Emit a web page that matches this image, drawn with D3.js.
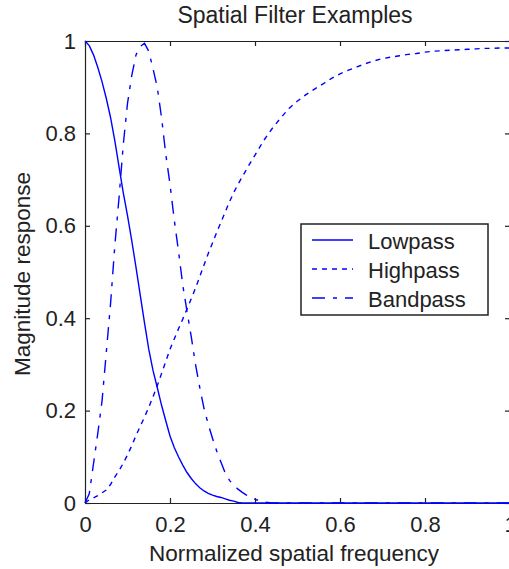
<!DOCTYPE html>
<html>
<head>
<meta charset="utf-8">
<script src="https://d3js.org/d3.v7.min.js"></script>
<style>
  body { margin: 0; background: #fff; }
  svg { display: block; font-family: "Liberation Sans", Arial, sans-serif; }
  .axis text { font-size: 22px; fill: #222; font-family: "Liberation Sans", Arial, sans-serif; }
  .axis path, .axis line { stroke: #222; stroke-width: 1.2; }
</style>
</head>
<body>
<svg width="509" height="569"></svg>
<script>
// normalized spatial frequency (shared x values)
var freq = [0, 0.01, 0.02, 0.03, 0.04, 0.05, 0.06, 0.07, 0.08, 0.09,
  0.1, 0.11, 0.12, 0.13, 0.14, 0.15, 0.16, 0.17, 0.18, 0.19,
  0.2, 0.21, 0.22, 0.23, 0.24, 0.25, 0.26, 0.27, 0.28, 0.29,
  0.3, 0.31, 0.32, 0.33, 0.34, 0.35, 0.36, 0.37, 0.38, 0.39, 0.4,
  0.42, 0.44, 0.46, 0.48, 0.5, 0.52, 0.54, 0.56, 0.58, 0.6,
  0.62, 0.64, 0.66, 0.68, 0.7, 0.72, 0.74, 0.76, 0.78, 0.8,
  0.82, 0.84, 0.86, 0.88, 0.9, 0.92, 0.94, 0.96, 0.98, 1];

var lowpass = [1, 0.99, 0.97, 0.943, 0.912, 0.876, 0.835, 0.785, 0.728, 0.672,
  0.622, 0.568, 0.51, 0.45, 0.39, 0.333, 0.287, 0.25, 0.212, 0.178,
  0.145, 0.12, 0.1, 0.082, 0.066, 0.053, 0.042, 0.033, 0.026, 0.021,
  0.017, 0.014, 0.012, 0.009, 0.006, 0.004, 0.001, 0, 0, 0, 0,
  0, 0, 0, 0, 0, 0, 0, 0, 0, 0,
  0, 0, 0, 0, 0, 0, 0, 0, 0, 0,
  0, 0, 0, 0, 0, 0, 0, 0, 0, 0];

var highpass = [0, 0.007, 0.011, 0.016, 0.022, 0.028, 0.04, 0.056, 0.07, 0.086,
  0.104, 0.124, 0.146, 0.166, 0.186, 0.207, 0.23, 0.254, 0.28, 0.306,
  0.333, 0.355, 0.377, 0.398, 0.42, 0.442, 0.465, 0.49, 0.515, 0.54,
  0.563, 0.586, 0.608, 0.63, 0.652, 0.672, 0.69, 0.706, 0.722, 0.738, 0.753,
  0.784, 0.81, 0.833, 0.854, 0.87, 0.884, 0.896, 0.907, 0.919, 0.929,
  0.937, 0.944, 0.951, 0.957, 0.962, 0.965, 0.968, 0.971, 0.973, 0.976,
  0.978, 0.979, 0.98, 0.981, 0.982, 0.983, 0.984, 0.984, 0.985, 0.985];

var bandpass = [0, 0.02, 0.085, 0.15, 0.22, 0.325, 0.43, 0.555, 0.66, 0.775,
  0.865, 0.925, 0.97, 0.988, 0.995, 0.978, 0.94, 0.9, 0.835, 0.755,
  0.69, 0.613, 0.545, 0.472, 0.415, 0.36, 0.3, 0.25, 0.205, 0.17,
  0.14, 0.112, 0.088, 0.065, 0.049, 0.038, 0.03, 0.023, 0.017, 0.012, 0.008,
  0.002, 0, 0, 0, 0, 0, 0, 0, 0, 0,
  0, 0, 0, 0, 0, 0, 0, 0, 0, 0,
  0, 0, 0, 0, 0, 0, 0, 0, 0, 0];

var seriesNames = ["Lowpass", "Highpass", "Bandpass"];
var seriesDash = [null, "5,5", "13,8,4,8"];
var tickVals = [0, 0.2, 0.4, 0.6, 0.8, 1];

var svg = d3.select("svg");
var x = d3.scaleLinear().domain([0, 1]).range([85, 510]);
var y = d3.scaleLinear().domain([0, 1]).range([503, 41]);
var fmt = function (d) { return d3.format("")(d); };

// axes, ticks pointing inward on all four sides
svg.append("g").attr("class", "axis")
  .attr("transform", "translate(0,503)")
  .call(d3.axisBottom(x).tickValues(tickVals).tickFormat(fmt)
    .tickSizeInner(-5).tickSizeOuter(0).tickPadding(13));
svg.append("g").attr("class", "axis")
  .attr("transform", "translate(0,41)")
  .call(d3.axisTop(x).tickValues(tickVals).tickFormat("")
    .tickSizeInner(-5).tickSizeOuter(0));
svg.append("g").attr("class", "axis")
  .attr("transform", "translate(85,0)")
  .call(d3.axisLeft(y).tickValues(tickVals).tickFormat(fmt)
    .tickSizeInner(-5).tickSizeOuter(0).tickPadding(9));
svg.append("g").attr("class", "axis")
  .attr("transform", "translate(510,0)")
  .call(d3.axisRight(y).tickValues(tickVals).tickFormat("")
    .tickSizeInner(-5).tickSizeOuter(0));
svg.selectAll(".axis .domain").attr("fill", "none");

// curves
var allData = [lowpass, highpass, bandpass];
var line = d3.line()
  .x(function (d, i) { return x(freq[i]); })
  .y(function (d) { return y(d); });

svg.append("g").selectAll("path")
  .data(allData)
  .enter().append("path")
  .attr("d", line)
  .attr("fill", "none")
  .attr("stroke", "#0000ff")
  .attr("stroke-width", 1.4)
  .attr("stroke-dasharray", function (d, i) { return seriesDash[i]; });

// title and axis labels
svg.append("text")
  .attr("x", 295).attr("y", 23)
  .attr("text-anchor", "middle")
  .attr("font-size", "23px").attr("fill", "#222")
  .text("Spatial Filter Examples");

svg.append("text")
  .attr("x", 294).attr("y", 561)
  .attr("text-anchor", "middle")
  .attr("font-size", "22.5px").attr("fill", "#222")
  .text("Normalized spatial frequency");

svg.append("text")
  .attr("transform", "translate(30,274) rotate(-90)")
  .attr("text-anchor", "middle")
  .attr("font-size", "22.5px").attr("fill", "#222")
  .text("Magnitude response");

// legend
var legend = svg.append("g").attr("transform", "translate(301,224)");
legend.append("rect")
  .attr("width", 187).attr("height", 91)
  .attr("fill", "#fff").attr("stroke", "#222").attr("stroke-width", 1.5);

var item = legend.selectAll(".item")
  .data(seriesNames)
  .enter().append("g")
  .attr("class", "item")
  .attr("transform", function (d, i) { return "translate(0," + (16 + i * 29) + ")"; });

item.append("line")
  .attr("x1", 11).attr("x2", 52)
  .attr("stroke", "#0000ff").attr("stroke-width", 1.4)
  .attr("stroke-dasharray", function (d, i) { return seriesDash[i]; });

item.append("text")
  .attr("x", 67).attr("y", 9)
  .attr("font-size", "22px").attr("fill", "#222")
  .text(function (d) { return d; });
</script>
</body>
</html>
